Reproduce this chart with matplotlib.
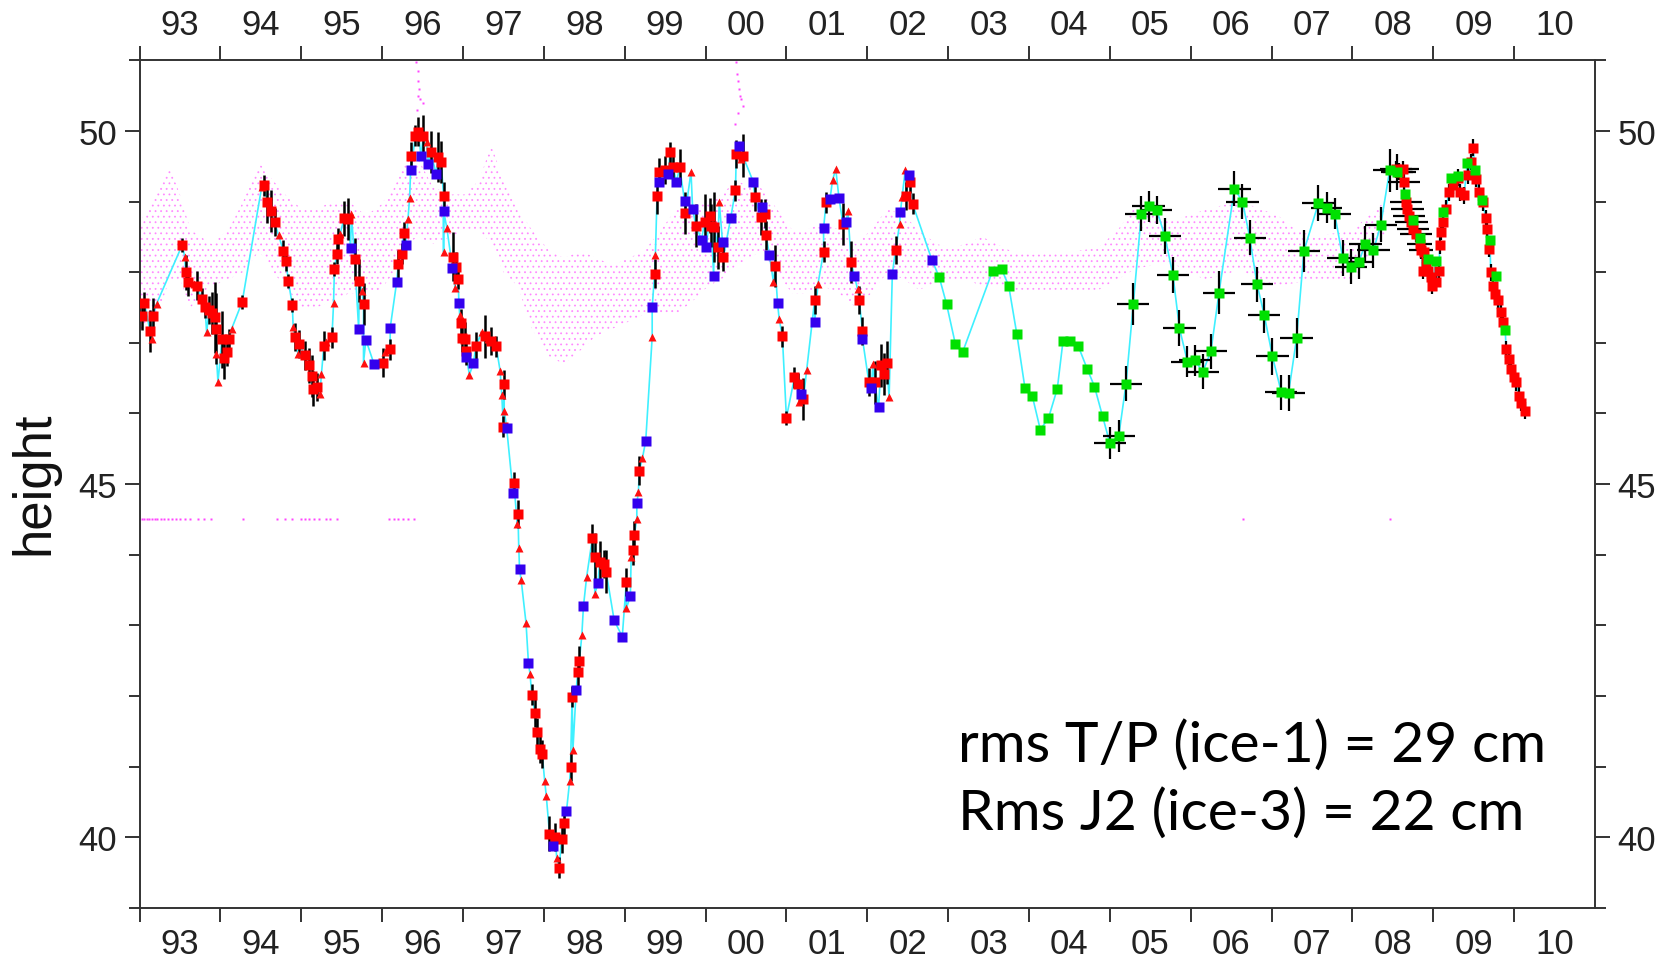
import matplotlib
matplotlib.use('Agg')
import matplotlib.pyplot as plt
import numpy as np

# ---------------- data (decimal year, height in m) ----------------
# T/P ice-1 red squares, with black vertical error bars
tp_sq_year = [1993.03, 1993.06, 1993.13, 1993.17, 1993.53, 1993.57, 1993.60, 1993.71, 1993.77, 1993.81,
              1993.86, 1993.90, 1993.93, 1993.94, 1994.02, 1994.05, 1994.08, 1994.11, 1994.27, 1994.54,
              1994.58, 1994.63, 1994.67, 1994.78, 1994.81, 1994.84, 1994.89, 1994.92, 1994.97, 1995.05,
              1995.09, 1995.13, 1995.15, 1995.19, 1995.28, 1995.38, 1995.41, 1995.44, 1995.46, 1995.53,
              1995.58, 1995.66, 1995.72, 1995.77, 1996.01, 1996.10, 1996.20, 1996.24, 1996.27, 1996.36,
              1996.41, 1996.45, 1996.51, 1996.60, 1996.69, 1996.73, 1996.76, 1996.88, 1996.92, 1996.94,
              1996.97, 1996.99, 1997.02, 1997.04, 1997.16, 1997.27, 1997.35, 1997.41, 1997.50, 1997.51,
              1997.63, 1997.68, 1997.85, 1997.89, 1997.91, 1997.95, 1997.98, 1998.07, 1998.14, 1998.19,
              1998.22, 1998.25, 1998.33, 1998.35, 1998.42, 1998.44, 1998.60, 1998.63, 1998.69, 1998.75,
              1998.77, 1999.02, 1999.10, 1999.12, 1999.18, 1999.37, 1999.40, 1999.43, 1999.50, 1999.56,
              1999.60, 1999.68, 1999.75, 1999.88, 1999.99, 2000.05, 2000.07, 2000.11, 2000.15, 2000.22,
              2000.37, 2000.38, 2000.46, 2000.61, 2000.68, 2000.73, 2000.75, 2000.86, 2000.95, 2001.00,
              2001.10, 2001.14, 2001.21, 2001.35, 2001.46, 2001.49, 2001.70, 2001.80, 2001.90, 2001.94,
              2002.02, 2002.09, 2002.17, 2002.21, 2002.24, 2002.35, 2002.48, 2002.53, 2002.56]
tp_sq_h = [47.38, 47.57, 47.17, 47.38, 48.39, 48.00, 47.86, 47.81, 47.62, 47.50,
           47.46, 47.42, 47.36, 47.20, 47.05, 46.79, 46.87, 47.05, 47.58, 49.23,
           48.99, 48.87, 48.71, 48.30, 48.16, 47.88, 47.53, 47.08, 46.98, 46.82,
           46.68, 46.53, 46.35, 46.37, 46.96, 47.08, 48.05, 48.26, 48.47, 48.76,
           48.75, 48.19, 47.88, 47.55, 46.72, 46.91, 48.12, 48.26, 48.56, 49.65,
           49.93, 49.99, 49.93, 49.70, 49.63, 49.56, 49.08, 48.22, 48.08, 47.91,
           47.28, 47.07, 47.05, 46.88, 46.95, 47.09, 47.03, 46.95, 45.81, 46.41,
           45.02, 44.58, 42.02, 41.76, 41.49, 41.25, 41.18, 40.05, 40.00, 39.57,
           39.98, 40.20, 40.99, 41.99, 42.34, 42.50, 44.23, 43.96, 43.89, 43.87,
           43.76, 43.61, 44.06, 44.28, 45.19, 47.98, 49.08, 49.42, 49.45, 49.70,
           49.49, 49.49, 48.84, 48.66, 48.71, 48.80, 48.66, 48.64, 48.35, 48.21,
           49.16, 49.67, 49.65, 49.06, 48.78, 48.83, 48.52, 48.09, 47.09, 45.94,
           46.51, 46.42, 46.20, 47.61, 48.29, 48.99, 48.68, 48.14, 47.61, 47.17,
           46.44, 46.44, 46.68, 46.56, 46.72, 48.31, 49.08, 49.27, 48.97]
tp_sq_err = [0.20, 0.15, 0.30, 0.25, 0.10, 0.25, 0.20, 0.20, 0.15, 0.15,
             0.20, 0.30, 0.50, 0.50, 0.40, 0.30, 0.20, 0.15, 0.10, 0.15,
             0.30, 0.30, 0.20, 0.15, 0.15, 0.10, 0.10, 0.20, 0.20, 0.20,
             0.25, 0.30, 0.25, 0.20, 0.20, 0.15, 0.10, 0.15, 0.15, 0.25,
             0.30, 0.30, 0.30, 0.30, 0.20, 0.15, 0.20, 0.15, 0.15, 0.20,
             0.15, 0.20, 0.30, 0.30, 0.35, 0.30, 0.20, 0.35, 0.20, 0.15,
             0.20, 0.20, 0.25, 0.20, 0.20, 0.30, 0.20, 0.15, 0.15, 0.20,
             0.15, 0.20, 0.15, 0.20, 0.20, 0.20, 0.20, 0.25, 0.20, 0.15,
             0.20, 0.20, 0.20, 0.15, 0.20, 0.20, 0.20, 0.35, 0.30, 0.20,
             0.30, 0.20, 0.20, 0.20, 0.20, 0.20, 0.25, 0.20, 0.20, 0.15,
             0.20, 0.25, 0.30, 0.30, 0.40, 0.25, 0.30, 0.50, 0.30, 0.20,
             0.15, 0.20, 0.30, 0.20, 0.25, 0.20, 0.20, 0.30, 0.15, 0.10,
             0.15, 0.15, 0.30, 0.20, 0.15, 0.15, 0.30, 0.30, 0.20, 0.20,
             0.20, 0.30, 0.30, 0.30, 0.30, 0.20, 0.20, 0.15, 0.15]

# red triangles
tp_tri_year = [1993.15, 1993.21, 1993.56, 1993.67, 1993.83, 1993.95, 1993.97, 1994.14, 1994.51, 1994.72,
               1994.90, 1994.96, 1995.23, 1995.25, 1995.31, 1995.40, 1995.48, 1995.62, 1995.75, 1995.77,
               1996.03, 1996.32, 1996.34, 1996.55, 1996.76, 1996.80, 1996.90, 1996.96, 1997.08, 1997.23,
               1997.31, 1997.46, 1997.48, 1997.51, 1997.67, 1997.69, 1997.72, 1997.78, 1997.83, 1998.01,
               1998.03, 1998.16, 1998.32, 1998.36, 1998.47, 1998.53, 1998.63, 1999.02, 1999.08, 1999.15,
               1999.17, 1999.22, 1999.34, 1999.38, 1999.82, 2000.17, 2000.44, 2000.84, 2000.91, 2001.16,
               2001.25, 2001.39, 2001.57, 2001.61, 2001.76, 2001.88, 2002.07, 2002.27, 2002.40, 2002.43,
               2002.47]
tp_tri_h = [47.05, 47.55, 48.21, 47.83, 47.15, 46.84, 46.44, 47.20, 49.20, 48.52,
            47.22, 46.84, 46.27, 46.56, 47.01, 47.57, 48.54, 48.82, 47.74, 46.72,
            46.87, 48.75, 49.05, 49.84, 48.29, 48.63, 47.77, 47.39, 46.55, 47.15,
            47.05, 46.60, 46.26, 46.04, 44.44, 44.10, 43.64, 43.03, 42.31, 40.80,
            40.59, 39.70, 40.80, 41.24, 42.86, 43.69, 43.44, 43.24, 43.96, 44.51,
            44.89, 45.37, 47.08, 48.25, 49.42, 48.99, 49.60, 47.86, 47.34, 46.16,
            46.61, 47.83, 49.30, 49.46, 48.87, 47.76, 46.70, 46.23, 48.68, 49.06,
            49.45]

# blue squares
blue_year = [1995.61, 1995.71, 1995.80, 1995.90, 1996.10, 1996.18, 1996.29, 1996.36, 1996.48, 1996.57,
             1996.67, 1996.76, 1996.87, 1996.95, 1997.04, 1997.13, 1997.54, 1997.62, 1997.70, 1997.81,
             1998.11, 1998.28, 1998.40, 1998.49, 1998.67, 1998.87, 1998.97, 1999.07, 1999.15, 1999.26,
             1999.34, 1999.43, 1999.54, 1999.64, 1999.74, 1999.84, 1999.95, 2000.01, 2000.10, 2000.21,
             2000.31, 2000.41, 2000.59, 2000.70, 2000.79, 2000.89, 2001.18, 2001.35, 2001.46, 2001.54,
             2001.65, 2001.74, 2001.84, 2001.94, 2002.05, 2002.14, 2002.31, 2002.41, 2002.52, 2002.80]
blue_h = [48.34, 47.20, 47.04, 46.70, 47.21, 47.86, 48.38, 49.45, 49.64, 49.53,
          49.39, 48.87, 48.06, 47.56, 46.80, 46.71, 45.80, 44.87, 43.79, 42.46,
          39.87, 40.37, 42.08, 43.27, 43.60, 43.07, 42.84, 43.41, 44.73, 45.61,
          47.50, 49.28, 49.39, 49.27, 49.01, 48.90, 48.46, 48.36, 47.95, 48.42,
          48.76, 49.78, 49.28, 48.92, 48.24, 47.57, 46.28, 47.29, 48.62, 49.04,
          49.05, 48.71, 47.95, 47.06, 46.36, 46.09, 47.98, 48.85, 49.37, 48.17]

# green squares (with black crosses where errors given)
green_year = [2002.89, 2002.98, 2003.09, 2003.18, 2003.55, 2003.66, 2003.75, 2003.85, 2003.95, 2004.04,
              2004.14, 2004.24, 2004.35, 2004.42, 2004.51, 2004.61, 2004.72, 2004.81, 2004.91, 2005.00,
              2005.11, 2005.20, 2005.29, 2005.39, 2005.48, 2005.58, 2005.68, 2005.78, 2005.86, 2005.96,
              2006.05, 2006.15, 2006.25, 2006.35, 2006.54, 2006.64, 2006.73, 2006.82, 2006.91, 2007.01,
              2007.12, 2007.21, 2007.31, 2007.40, 2007.58, 2007.68, 2007.78, 2007.88, 2007.98, 2008.08,
              2008.16, 2008.26, 2008.35, 2008.46, 2008.55, 2008.65, 2008.75, 2008.84, 2008.93, 2009.03,
              2009.12, 2009.22, 2009.31, 2009.42, 2009.52, 2009.60, 2009.70, 2009.78, 2009.89]
green_h = [47.93, 47.55, 46.98, 46.87, 48.02, 48.05, 47.80, 47.12, 46.36, 46.25,
           45.77, 45.93, 46.35, 47.02, 47.02, 46.95, 46.63, 46.38, 45.96, 45.58,
           45.68, 46.42, 47.55, 48.83, 48.93, 48.88, 48.51, 47.96, 47.21, 46.73,
           46.75, 46.59, 46.88, 47.71, 49.18, 49.00, 48.49, 47.83, 47.39, 46.81,
           46.30, 46.29, 47.07, 48.30, 48.98, 48.91, 48.83, 48.20, 48.08, 48.15,
           48.40, 48.31, 48.67, 49.44, 49.42, 49.10, 48.74, 48.49, 48.19, 48.16,
           48.85, 49.33, 49.36, 49.54, 49.45, 49.02, 48.46, 47.95, 47.18]
green_xerr = [0, 0, 0, 0, 0, 0, 0, 0, 0, 0,
              0, 0, 0, 0, 0, 0, 0, 0, 0, 0.20,
              0.20, 0.20, 0.20, 0.20, 0.20, 0.19, 0.20, 0.20, 0.20, 0.20,
              0.19, 0.20, 0.20, 0.20, 0.20, 0.20, 0.20, 0.20, 0.20, 0.20,
              0.20, 0.20, 0.20, 0.20, 0.20, 0.19, 0.20, 0.20, 0.20, 0.19,
              0.20, 0.20, 0.20, 0.20, 0.20, 0, 0, 0, 0, 0,
              0, 0, 0, 0, 0, 0, 0, 0, 0]
green_yerr = [0, 0, 0, 0, 0, 0, 0, 0, 0, 0,
              0, 0, 0, 0, 0, 0, 0, 0, 0, 0.23,
              0.22, 0.25, 0.30, 0.25, 0.22, 0.20, 0.25, 0.25, 0.25, 0.22,
              0.22, 0.25, 0.25, 0.30, 0.25, 0.25, 0.25, 0.25, 0.25, 0.26,
              0.25, 0.25, 0.28, 0.30, 0.25, 0.22, 0.22, 0.25, 0.25, 0.25,
              0.25, 0.25, 0.25, 0.30, 0.25, 0, 0, 0, 0, 0,
              0, 0, 0, 0, 0, 0, 0, 0, 0]

# Jason-2 ice-3 red squares 2008-2010
j2_year = [2008.54, 2008.58, 2008.62, 2008.64, 2008.66, 2008.68, 2008.70, 2008.73, 2008.75, 2008.79,
           2008.83, 2008.85, 2008.87, 2008.89, 2008.91, 2008.93, 2008.97, 2008.99, 2009.03, 2009.07,
           2009.08, 2009.10, 2009.12, 2009.16, 2009.19, 2009.24, 2009.30, 2009.33, 2009.38, 2009.43,
           2009.47, 2009.49, 2009.53, 2009.57, 2009.61, 2009.65, 2009.67, 2009.69, 2009.71, 2009.74,
           2009.76, 2009.80, 2009.84, 2009.86, 2009.90, 2009.94, 2009.96, 2010.00, 2010.02, 2010.06,
           2010.09, 2010.13]
j2_h = [49.46, 49.42, 49.46, 49.27, 48.99, 48.90, 48.80, 48.71, 48.61, 48.54,
        48.40, 48.31, 48.02, 48.28, 48.14, 48.02, 47.93, 47.81, 47.86, 48.02,
        48.38, 48.57, 48.71, 48.90, 49.13, 49.23, 49.34, 49.13, 49.09, 49.37,
        49.56, 49.76, 49.32, 49.13, 48.99, 48.76, 48.61, 48.33, 48.00, 47.81,
        47.69, 47.60, 47.43, 47.29, 46.91, 46.77, 46.63, 46.51, 46.44, 46.25,
        46.15, 46.04]
j2_xerr = [0.20, 0.20, 0.20, 0.20, 0.20, 0.20, 0.20, 0.20, 0.20, 0.20,
           0.15, 0.15, 0, 0, 0, 0, 0, 0, 0, 0,
           0, 0, 0, 0, 0, 0, 0, 0, 0, 0,
           0, 0, 0, 0, 0, 0, 0, 0, 0, 0,
           0, 0, 0, 0, 0, 0, 0, 0, 0, 0,
           0, 0]

# magenta point cloud, read as lower / upper envelope
cloud_year = [1993.00, 1993.20, 1993.37, 1993.50, 1993.63, 1993.89, 1994.10, 1994.28, 1994.48, 1994.65,
              1994.80, 1995.00, 1995.19, 1995.40, 1995.59, 1995.80, 1995.98, 1996.15, 1996.30, 1996.45,
              1996.63, 1996.85, 1997.02, 1997.20, 1997.35, 1997.50, 1997.68, 1997.85, 1998.07, 1998.25,
              1998.46, 1998.65, 1998.85, 1999.05, 1999.24, 1999.45, 1999.64, 1999.85, 2000.03, 2000.20,
              2000.38, 2000.55, 2000.68, 2000.88, 2001.07, 2001.25, 2001.46, 2001.65, 2001.86, 2002.05,
              2002.25, 2002.45, 2002.64, 2002.85, 2003.03, 2003.22, 2003.42, 2003.60, 2003.81, 2004.05,
              2004.34, 2004.60, 2004.86, 2005.10, 2005.32, 2005.55, 2005.77, 2005.97, 2006.17, 2006.40,
              2006.62, 2006.85, 2007.08, 2007.30, 2007.54, 2007.77, 2007.99, 2008.15, 2008.30, 2008.40]
cloud_low = [47.1, 47.3, 47.9, 47.9, 47.5, 47.8, 47.9, 48.0, 48.3, 48.0,
             47.8, 47.5, 47.5, 47.6, 47.7, 47.7, 47.75, 48.0, 48.4, 48.5,
             48.4, 48.5, 48.6, 48.6, 48.4, 48.0, 47.8, 47.2, 46.8, 46.7,
             46.9, 47.1, 47.2, 47.3, 47.4, 47.4, 47.4, 47.6, 47.8, 47.9,
             48.1, 48.2, 48.3, 48.0, 47.7, 47.7, 47.8, 47.7, 47.5, 47.7,
             48.0, 47.9, 47.75, 47.85, 47.9, 47.9, 47.8, 47.8, 47.75, 47.75,
             47.75, 47.75, 47.75, 47.9, 48.05, 48.1, 48.13, 48.0, 47.9, 47.95,
             48.05, 47.85, 47.8, 47.85, 47.9, 47.9, 47.9, 48.1, 48.3, 48.5]
cloud_high = [48.7, 49.1, 49.5, 49.1, 48.6, 48.4, 48.6, 49.0, 49.55, 49.3,
              49.1, 48.9, 48.9, 49.0, 49.0, 48.8, 48.95, 49.2, 49.6, 49.6,
              49.2, 49.1, 49.1, 49.3, 49.8, 49.3, 48.9, 48.6, 48.3, 48.2,
              48.3, 48.2, 48.1, 48.2, 48.3, 48.6, 48.9, 49.0, 49.0, 49.1,
              49.3, 49.2, 49.2, 48.9, 48.6, 48.6, 48.7, 48.6, 48.4, 48.6,
              48.9, 48.8, 48.6, 48.4, 48.35, 48.4, 48.5, 48.4, 48.28, 48.25,
              48.28, 48.3, 48.35, 48.6, 48.95, 48.8, 48.73, 48.8, 48.88, 48.95,
              49.0, 48.9, 48.8, 48.6, 48.5, 48.55, 48.58, 48.75, 48.9, 49.0]

# isolated magenta dots (flagged values near 44.5 m and two spikes)
flag_year = [1993.03, 1993.06, 1993.09, 1993.12, 1993.15, 1993.19, 1993.22, 1993.26, 1993.30, 1993.35,
             1993.40, 1993.45, 1993.50, 1993.56, 1993.62, 1993.72, 1993.80, 1993.88, 1994.28, 1994.70,
             1994.80, 1994.88, 1995.00, 1995.05, 1995.10, 1995.16, 1995.22, 1995.30, 1995.36, 1995.44,
             1996.08, 1996.15, 1996.20, 1996.26, 1996.32, 1996.40, 2006.65, 2008.47]
flag_h = [44.5] * len(flag_year)
spike_year = [1996.42, 1996.44, 1996.45, 1996.46, 1996.44, 1996.47, 1996.50, 1996.43,
              2000.38, 2000.39, 2000.40, 2000.41, 2000.42, 2000.44, 2000.46, 2000.37, 2000.40]
spike_h = [50.98, 50.85, 50.70, 50.60, 50.50, 50.45, 50.40, 50.30,
           50.98, 50.80, 50.70, 50.60, 50.50, 50.45, 50.35, 50.10, 50.25]

year_labels = ['93', '94', '95', '96', '97', '98', '99', '00', '01', '02',
               '03', '04', '05', '06', '07', '08', '09', '10']

# ---------------- plot ----------------
plt.rcParams['font.family'] = ['Liberation Sans Narrow', 'Liberation Sans', 'DejaVu Sans']
plt.rcParams['hatch.linewidth'] = 0.6

fig = plt.figure(figsize=(16.57, 9.62), dpi=100)
ax = fig.add_axes([0.0842, 0.0553, 0.8784, 0.881])
ax.set_xlim(1993, 2011)
ax.set_ylim(39, 51)

ax.fill_between(cloud_year, cloud_low, cloud_high, facecolor='none', edgecolor='#ff80ff',
                hatch='...', linewidth=0, alpha=0.85, zorder=1)
ax.plot(flag_year, flag_h, 's', ms=1.6, color='#ff44ff', mec='none', zorder=1)
ax.plot(spike_year, spike_h, 's', ms=1.6, color='#ff44ff', mec='none', zorder=1)

# connecting line through every altimetry point
all_year = np.concatenate([tp_sq_year, tp_tri_year, blue_year, green_year, j2_year])
all_h = np.concatenate([tp_sq_h, tp_tri_h, blue_h, green_h, j2_h])
order = np.argsort(all_year, kind='stable')
ax.plot(all_year[order], all_h[order], '-', color='#3ff0ff', lw=1.2, zorder=2)

ax.errorbar(tp_sq_year, tp_sq_h, yerr=tp_sq_err, fmt='none', ecolor='black', elinewidth=1.8, zorder=3)
ax.errorbar(green_year, green_h, xerr=green_xerr, yerr=green_yerr, fmt='none', ecolor='black',
            elinewidth=1.6, zorder=3)
ax.errorbar(j2_year, j2_h, xerr=j2_xerr, yerr=0.12, fmt='none', ecolor='black', elinewidth=1.6, zorder=3)

ax.plot(tp_tri_year, tp_tri_h, '^', ms=6, color='#ff1010', mec='none', zorder=4)
ax.plot(tp_sq_year, tp_sq_h, 's', ms=7.5, color='#ff0000', mec='none', zorder=4)
ax.plot(blue_year, blue_h, 's', ms=6.5, color='#3300ee', mec='none', zorder=5)
ax.plot(j2_year, j2_h, 's', ms=7, color='#ff0000', mec='none', zorder=4)
ax.plot(green_year, green_h, 's', ms=7, color='#00e000', mec='none', zorder=5)

# axes cosmetics
for s in ax.spines.values():
    s.set_linewidth(1.4)
    s.set_color('#333333')

ax.set_xticks(range(1993, 2011))
ax.set_xticklabels([])
ax.set_xticks([1993.5 + i for i in range(len(year_labels))], minor=True)
ax.set_xticklabels(year_labels, minor=True)
ax.tick_params(axis='x', which='major', direction='out', length=10, width=1.4, color='#333333',
               top=True, bottom=True)
ax.tick_params(axis='x', which='minor', length=0, labelsize=25, labelcolor='#222222',
               top=True, bottom=True, labeltop=True, labelbottom=True, pad=14)

ax.set_yticks([40, 45, 50])
ax.set_yticks([39, 41, 42, 43, 44, 46, 47, 48, 49, 51], minor=True)
ax.tick_params(axis='y', which='major', direction='out', length=11, width=1.4, color='#333333',
               left=True, right=True, labelleft=True, labelright=True, labelsize=25,
               labelcolor='#222222', pad=5)
ax.tick_params(axis='y', which='minor', direction='out', length=8, width=1.4, color='#333333',
               left=True, right=True)

fig.text(34 / 1657, 0.498, 'height', rotation=90, ha='center', va='center', fontsize=38,
         color='#111111', family=['Liberation Sans', 'DejaVu Sans'])

ax.text(2003.12, 41.08, 'rms T/P (ice-1) = 29 cm', fontsize=41, family=['Lato', 'DejaVu Sans'],
        va='baseline', ha='left', zorder=6)
ax.text(2003.12, 40.12, 'Rms J2 (ice-3) = 22 cm', fontsize=41, family=['Lato', 'DejaVu Sans'],
        va='baseline', ha='left', zorder=6)

fig.savefig('out.png', dpi=100)
